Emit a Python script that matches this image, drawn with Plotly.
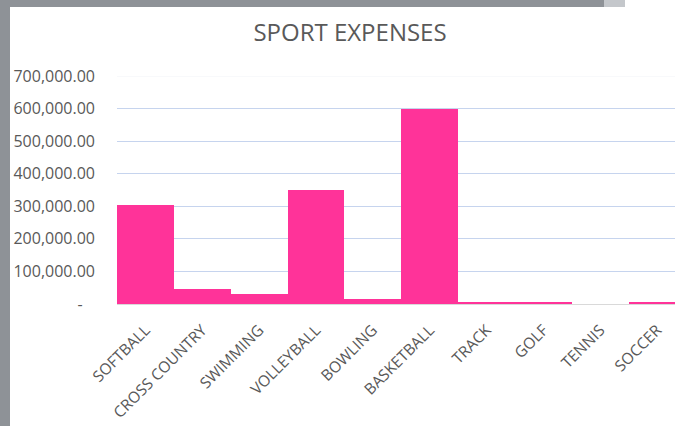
import plotly.graph_objects as go

# ---- data ----
sports = ["SOFTBALL", "CROSS COUNTRY", "SWIMMING", "VOLLEYBALL", "BOWLING",
          "BASKETBALL", "TRACK", "GOLF", "TENNIS", "SOCCER"]
expenses = [305000, 45000, 32000, 350000, 14000, 598000, 5000, 5000, 0, 5000]
ytick_vals = [0, 100000, 200000, 300000, 400000, 500000, 600000, 700000]
ytick_text = ["-\u00a0\u00a0\u00a0", "100,000.00", "200,000.00", "300,000.00",
              "400,000.00", "500,000.00", "600,000.00", "700,000.00"]
title_text = "SPORT EXPENSES"

W, H = 675, 426
L, R, T, B = 117, 0, 76, 122
cat_w = 56.85
pw = W - L - R
ph = H - T - B

def px_x(x):
    return (x - L) / pw

def px_y(y):
    return (H - B - y) / ph

fig = go.Figure(go.Bar(
    x=sports, y=expenses,
    marker=dict(color="#FF3399", line=dict(width=0)),
    hoverinfo="x+y",
))

font_family = "Open Sans, Liberation Sans, sans-serif"
grey_txt = "#595959"

shapes = [
    # left grey frame strip
    dict(type="rect", xref="paper", yref="paper",
         x0=px_x(0), x1=px_x(10), y0=px_y(H), y1=px_y(0),
         fillcolor="#8e9297", line=dict(width=0), layer="above"),
    # top grey frame strip
    dict(type="rect", xref="paper", yref="paper",
         x0=px_x(0), x1=px_x(604), y0=px_y(7), y1=px_y(0),
         fillcolor="#8e9297", line=dict(width=0), layer="above"),
    dict(type="rect", xref="paper", yref="paper",
         x0=px_x(604), x1=px_x(625), y0=px_y(7), y1=px_y(0),
         fillcolor="#c4c7cb", line=dict(width=0), layer="above"),
    # faint top gridline
    dict(type="line", xref="paper", yref="y",
         x0=0, x1=1, y0=700000, y1=700000,
         line=dict(color="#f1f3f7", width=1), layer="above"),
]

fig.update_layout(
    width=W, height=H,
    margin=dict(l=L, r=R, t=T, b=B, autoexpand=False),
    paper_bgcolor="white", plot_bgcolor="white",
    bargap=0,
    showlegend=False,
    title=dict(text=title_text, x=350 / W, xanchor="center",
               y=1 - 33 / H, yanchor="middle",
               font=dict(family=font_family, size=24, color=grey_txt)),
    font=dict(family=font_family, color=grey_txt),
    xaxis=dict(
        type="category",
        range=[-0.5, -0.5 + pw / cat_w],
        tickangle=-45,
        tickfont=dict(size=15.5, color=grey_txt),
        showgrid=False,
        showline=True, linecolor="#d9d9d9", linewidth=1,
        ticks="", zeroline=False,
        ticklabelstandoff=10,
        fixedrange=True,
    ),
    yaxis=dict(
        range=[0, 700000],
        tickvals=ytick_vals, ticktext=ytick_text,
        tickfont=dict(size=16, color=grey_txt),
        showgrid=True, gridcolor="#c6d4ee", gridwidth=1,
        zeroline=False, showline=False, ticks="",
        ticklabelstandoff=21,
        fixedrange=True,
    ),
    shapes=shapes,
)

fig.write_html("out.html",
               config={"displayModeBar": False},
               post_script="document.body.style.margin='0';document.body.style.padding='0';")
